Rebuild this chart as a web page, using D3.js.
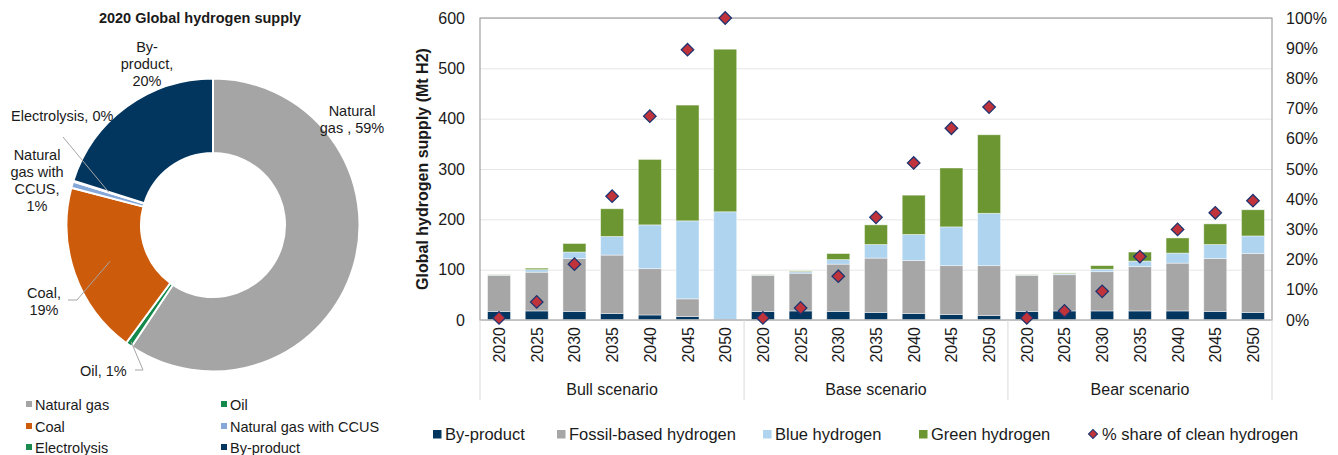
<!DOCTYPE html>
<html>
<head>
<meta charset="utf-8">
<script src="https://cdn.jsdelivr.net/npm/d3@7"></script>
<style>
  body { margin: 0; background: #fff; }
  svg { display: block; font-family: "Liberation Sans", Arial, sans-serif; }
</style>
</head>
<body>
<svg id="chart" width="1338" height="455"></svg>
<script>
// ---- 2020 supply mix (donut), shares in % ----
const sourceNames  = ["Natural gas", "Oil", "Coal", "Natural gas with CCUS", "Electrolysis", "By-product"];
const sourceShares = [59.4, 0.7, 19.0, 0.7, 0.1, 20.1];
// label line layout per slice; {p} is replaced by the rounded share
const sourceLabelLines = [
  ["Natural", "gas , {p}"],
  ["Oil, {p}"],
  ["Coal,", "{p}"],
  ["Natural", "gas with", "CCUS,", "{p}"],
  ["Electrolysis, {p}"],
  ["By-", "product,", "{p}"]
];

// ---- Scenario outlook (stacked bars), Mt H2 ----
const scenarios = ["Bull scenario", "Base scenario", "Bear scenario"];
const years = ["2020", "2025", "2030", "2035", "2040", "2045", "2050"];
// each series: Bull 2020..2050, Base 2020..2050, Bear 2020..2050
const byProduct = [17, 18, 17, 13, 10, 7, 0,    17, 18, 17, 15, 13, 11, 9,    17, 18, 18, 18, 18, 17, 15];
const fossil    = [72, 77, 105, 116, 92, 35, 0, 72, 75, 94, 108, 105, 97, 99, 72, 72, 78, 88, 95, 105, 117];
const blueH2    = [0.5, 5, 13, 37, 87, 155, 215, 0.5, 3, 9, 27, 52, 77, 104, 0.5, 2, 5, 11, 20, 28, 35];
const greenH2   = [0.5, 3, 17, 55, 130, 230, 323, 0.5, 1.5, 12, 39, 78, 117, 156, 0.5, 1.5, 7, 18, 30, 41, 52];
// % share of clean hydrogen (right axis)
const cleanShare = [0.7, 6, 18.5, 41, 67.5, 89.5, 100, 0.7, 4, 14.5, 34, 52, 63.5, 70.5, 0.7, 3, 9.5, 21, 30, 35.5, 39.5];
const leftTicks = [0, 100, 200, 300, 400, 500, 600];
const rightTicks = [0, 10, 20, 30, 40, 50, 60, 70, 80, 90, 100];

const svg = d3.select("#chart");
const textColor = "#1a1a1a";

// ================= Donut =================
const donutColors = ["#a5a5a5", "#138a4b", "#cc5c0c", "#86a8d8", "#1b8a4e", "#03365f"];
const cx = 213, cy = 225, rOuter = 146.5, rInner = 72;
const g1 = svg.append("g").attr("transform", `translate(${cx},${cy})`);

svg.append("text").attr("x", 200).attr("y", 23).attr("text-anchor", "middle")
  .attr("font-size", 14.5).attr("font-weight", "bold").attr("fill", textColor)
  .text("2020 Global hydrogen supply");

const pie = d3.pie().sort(null).value(d => d)(sourceShares);
const arc = d3.arc().innerRadius(rInner).outerRadius(rOuter);
g1.selectAll("path.slice").data(pie).join("path")
  .attr("class", "slice")
  .attr("d", arc)
  .attr("fill", (d, i) => donutColors[i])
  .attr("stroke", "#fff").attr("stroke-width", 2).attr("stroke-linejoin", "round");

// label anchors relative to donut centre: [dx, dy of first baseline, anchor]
const labelAnchor = [
  [139, -109, "middle"],
  [-133, 151, "start"],
  [-169, 73, "middle"],
  [-176, -65, "middle"],
  [-202, -104, "start"],
  [-66, -173, "middle"]
];
const lh = 17;
pie.forEach((p, i) => {
  const pct = Math.round(sourceShares[i]) + "%";
  const t = g1.append("text").attr("font-size", 14.5).attr("fill", textColor)
    .attr("text-anchor", labelAnchor[i][2]);
  sourceLabelLines[i].forEach((ln, j) => {
    t.append("tspan").attr("x", labelAnchor[i][0]).attr("y", labelAnchor[i][1] + j * lh)
      .text(ln.replace("{p}", pct));
  });
});

// leader lines (label side -> slice)
const leaderColor = "#a6a6a6";
function pointAt(a, r) { return [Math.sin(a) * r, -Math.cos(a) * r]; }
const mid = p => (p.startAngle + p.endAngle) / 2;
const rMid = (rInner + rOuter) / 2;
const leaders = [
  { i: 4, pts: [[-150, -88]], r: rMid },
  { i: 2, pts: [[-145, 75], [-136, 75]], r: rMid },
  { i: 1, pts: [[-78, 145], [-70, 145]], r: rOuter - 4 }
];
leaders.forEach(l => {
  const end = pointAt(mid(pie[l.i]), l.r);
  g1.append("path")
    .attr("d", d3.line()([...l.pts, end]))
    .attr("fill", "none").attr("stroke", leaderColor).attr("stroke-width", 1);
});

// donut legend
const legRows = [404, 426, 447], legCols = [26, 221];
sourceNames.forEach((n, i) => {
  const col = i % 2, row = Math.floor(i / 2);
  const lg = svg.append("g").attr("transform", `translate(${legCols[col]},${legRows[row]})`);
  lg.append("rect").attr("x", 0).attr("y", -3).attr("width", 6).attr("height", 6).attr("fill", donutColors[i]);
  lg.append("text").attr("x", 9).attr("y", 5.5).attr("font-size", 14.5).attr("fill", textColor).text(n);
});

// ================= Stacked bars =================
const plotL = 480, plotR = 1272, plotT = 18, plotB = 320;
const rows = byProduct.map((v, i) => ({
  id: i, scenario: scenarios[Math.floor(i / 7)], year: years[i % 7],
  byProduct: v, fossil: fossil[i], blue: blueH2[i], green: greenH2[i], share: cleanShare[i]
}));
const keys = ["byProduct", "fossil", "blue", "green"];
const barColors = { byProduct: "#03365f", fossil: "#a6a6a6", blue: "#afd4ef", green: "#6b9631" };
const seriesNames = { byProduct: "By-product", fossil: "Fossil-based hydrogen", blue: "Blue hydrogen", green: "Green hydrogen" };

const x = d3.scaleBand().domain(rows.map(r => r.id)).range([plotL, plotR]).paddingInner(0.39).paddingOuter(0.2);
const y = d3.scaleLinear().domain([0, 600]).range([plotB, plotT]);
const yr = d3.scaleLinear().domain([0, 100]).range([plotB, plotT]);

// gridlines
svg.append("g").attr("transform", `translate(${plotL},0)`)
  .call(d3.axisLeft(y).tickValues(leftTicks).tickSize(-(plotR - plotL)).tickFormat(""))
  .call(g => g.select(".domain").remove())
  .call(g => g.selectAll("line").attr("stroke", "#e6e6e6").attr("stroke-width", 1));

// bars
const stacked = d3.stack().keys(keys)(rows);
svg.append("g").selectAll("g").data(stacked).join("g")
  .attr("fill", d => barColors[d.key])
  .selectAll("rect").data(d => d).join("rect")
  .attr("x", d => x(d.data.id))
  .attr("width", x.bandwidth())
  .attr("y", d => y(d[1]))
  .attr("height", d => Math.max(0, y(d[0]) - y(d[1])))
  .attr("stroke", "rgba(255,255,255,0.55)").attr("stroke-width", 0.8);

// plot frame
svg.append("rect").attr("x", plotL).attr("y", plotT).attr("width", plotR - plotL).attr("height", plotB - plotT)
  .attr("fill", "none").attr("stroke", "#a0a0a0").attr("stroke-width", 1.2);
svg.append("line").attr("x1", plotL).attr("x2", plotR).attr("y1", plotB).attr("y2", plotB)
  .attr("stroke", "#c8c8c8").attr("stroke-width", 1.2);

// left axis
svg.append("g").attr("transform", `translate(${plotL},0)`)
  .call(d3.axisLeft(y).tickValues(leftTicks).tickSize(0).tickPadding(15))
  .call(g => g.select(".domain").remove())
  .call(g => g.selectAll("text").attr("font-size", 16).attr("fill", textColor)
    .attr("font-family", "Liberation Sans, Arial, sans-serif"));

// right axis
svg.append("g").attr("transform", `translate(${plotR},0)`)
  .call(d3.axisRight(yr).tickValues(rightTicks).tickSize(0).tickPadding(14).tickFormat(d => d + "%"))
  .call(g => g.select(".domain").remove())
  .call(g => g.selectAll("text").attr("font-size", 16).attr("fill", textColor)
    .attr("font-family", "Liberation Sans, Arial, sans-serif"));

// y title
svg.append("text").attr("transform", `translate(428,169) rotate(-90)`)
  .attr("text-anchor", "middle").attr("font-size", 16).attr("font-weight", "bold").attr("fill", textColor)
  .text("Global hydrogen supply (Mt H2)");

// year labels
svg.append("g").selectAll("text").data(rows).join("text")
  .attr("transform", d => `translate(${x(d.id) + x.bandwidth() / 2 + 6},327) rotate(-90)`)
  .attr("text-anchor", "end").attr("font-size", 16).attr("fill", textColor)
  .text(d => d.year);

// scenario group separators and names
const step = x.step();
const groupEdges = [0, 7, 14].map(k => k === 0 ? plotL : x(k) - step * x.paddingInner() / 2);
groupEdges.push(plotR);
svg.append("g").selectAll("line").data(groupEdges).join("line")
  .attr("x1", d => d).attr("x2", d => d).attr("y1", plotB).attr("y2", 400)
  .attr("stroke", "#d9d9d9").attr("stroke-width", 1);
svg.append("g").selectAll("text").data(scenarios).join("text")
  .attr("x", (d, i) => (groupEdges[i] + groupEdges[i + 1]) / 2)
  .attr("y", 395).attr("text-anchor", "middle").attr("font-size", 16).attr("fill", textColor)
  .text(d => d);

// clean share markers
const diamond = d3.symbol(d3.symbolSquare, 78);
svg.append("g").selectAll("path").data(rows).join("path")
  .attr("d", diamond)
  .attr("transform", d => `translate(${x(d.id) + x.bandwidth() / 2},${yr(d.share)}) rotate(45)`)
  .attr("fill", "#c1333a").attr("stroke", "#1f3470").attr("stroke-width", 1.3);

// bar legend
const legItems = [
  { key: "byProduct", x: 433 }, { key: "fossil", x: 557 },
  { key: "blue", x: 763 }, { key: "green", x: 919 }
];
legItems.forEach(it => {
  svg.append("rect").attr("x", it.x).attr("y", 430).attr("width", 8.5).attr("height", 8.5).attr("fill", barColors[it.key]);
  svg.append("text").attr("x", it.x + 12).attr("y", 440).attr("font-size", 16.5).attr("fill", textColor)
    .text(seriesNames[it.key]);
});
svg.append("path").attr("d", d3.symbol(d3.symbolSquare, 40))
  .attr("transform", "translate(1093,434) rotate(45)")
  .attr("fill", "#c1333a").attr("stroke", "#1f3470").attr("stroke-width", 1.1);
svg.append("text").attr("x", 1102).attr("y", 440).attr("font-size", 16.5).attr("fill", textColor)
  .text("% share of clean hydrogen");
</script>
</body>
</html>
